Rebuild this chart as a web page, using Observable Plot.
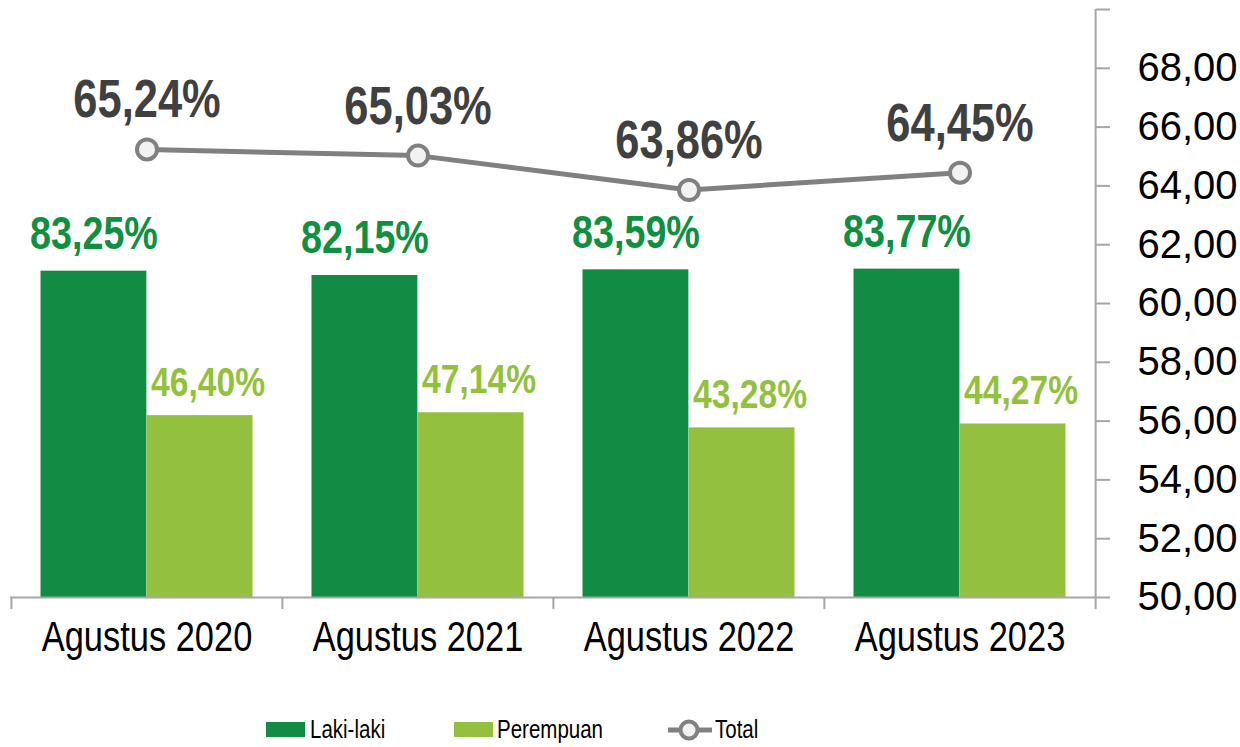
<!DOCTYPE html>
<html><head><meta charset="utf-8">
<script src="https://cdn.jsdelivr.net/npm/d3@7"></script>
<script src="https://cdn.jsdelivr.net/npm/@observablehq/plot@0.6"></script>
<style>
body{margin:0;background:#fff;}
#chart{width:1240px;height:700px;}
.legend{position:relative;height:47px;width:1240px;font-family:"Arial Narrow","Liberation Sans",Arial,sans-serif;font-size:25px;color:#000;}
.legend .sw{position:absolute;top:22px;width:39px;height:15px;}
.legend .lb{position:absolute;top:14px;line-height:30px;transform:scaleX(0.82);transform-origin:left center;white-space:nowrap;}
.legend svg{position:absolute;top:18px;}
</style></head><body>
<div id="chart"></div>
<div class="legend" id="legend"></div>
<script>
const categories = ["Agustus 2020", "Agustus 2021", "Agustus 2022", "Agustus 2023"];
const lakiLaki = [83.25, 82.15, 83.59, 83.77];
const perempuan = [46.40, 47.14, 43.28, 44.27];
const total = [65.24, 65.03, 63.86, 64.45];
const rightTicks = [50, 52, 54, 56, 58, 60, 62, 64, 66, 68, 70];
const seriesNames = ["Laki-laki", "Perempuan", "Total"];
const colors = {laki: "#128c44", perempuan: "#93c13f", total: "#808080"};
const primaryMax = 150; // hidden primary axis (bars) runs 0..150

const W = 1240, H = 700, mL = 10, mR = 145, mT = 9, mB = 103;
const bw = (W - mL - mR) / categories.length;
const gap = 29.5;
const barW = (bw - 2 * gap) / 2;
const yMin = 50, yMax = 70;
const toY = v => yMin + v * (yMax - yMin) / primaryMax;
const fmt = v => v.toFixed(2).replace(".", ",");
const narrow = '"Arial Narrow","Liberation Sans",Arial,sans-serif';
const narrowScale = 0.82;
const axisGray = "#a6a6a6";

const rows = categories.map((c, i) => ({cat: c, laki: lakiLaki[i], perempuan: perempuan[i], total: total[i]}));

const chart = Plot.plot({
  width: W, height: H,
  marginLeft: mL, marginRight: mR, marginTop: mT, marginBottom: mB,
  x: {type: "band", domain: categories, padding: 0, axis: null},
  y: {domain: [yMin, yMax]},
  style: {background: "#fff", overflow: "visible"},
  marks: [
    Plot.barY(rows, {x: "cat", y1: yMin, y2: d => toY(d.laki), fill: colors.laki, insetLeft: gap, insetRight: bw - gap - barW}),
    Plot.barY(rows, {x: "cat", y1: yMin, y2: d => toY(d.perempuan), fill: colors.perempuan, insetLeft: gap + barW, insetRight: gap}),
    Plot.ruleY([yMin], {stroke: axisGray, strokeWidth: 2}),
    Plot.ruleX(categories, {x: d => d, y1: yMin, y2: yMin, dx: -bw / 2, insetBottom: -12, stroke: axisGray, strokeWidth: 2}),
    Plot.ruleX([categories[categories.length - 1]], {x: d => d, y1: yMax, y2: yMin, dx: bw / 2, insetBottom: -12, stroke: axisGray, strokeWidth: 2}),
    Plot.axisY({anchor: "right", ticks: rightTicks, tickSize: 14, tickPadding: 28, label: null,
      tickFormat: d => d === yMax ? "" : fmt(d), fontSize: 40, fontFamily: '"Liberation Sans",Arial,sans-serif',
      stroke: axisGray, strokeWidth: 2, fill: "#000"}),
    Plot.text(categories, {x: d => d, text: d => d, frameAnchor: "bottom", dy: 53, lineAnchor: "bottom",
      fontSize: 42, fontFamily: narrow, fill: "#000"}),
    Plot.line(rows, {x: "cat", y: "total", stroke: colors.total, strokeWidth: 5}),
    Plot.dot(rows, {x: "cat", y: "total", r: 10, fill: "#f2f2f2", stroke: colors.total, strokeWidth: 4}),
    Plot.text(rows, {x: "cat", y: "total", text: d => fmt(d.total) + "%", dy: -32, lineAnchor: "bottom",
      fontSize: 53, fontWeight: "bold", fontFamily: narrow, fill: "#404040"}),
    Plot.text(rows, {x: "cat", y: d => toY(d.laki), text: d => fmt(d.laki) + "%", dx: -bw / 4 + gap / 2, dy: -22, lineAnchor: "bottom",
      fontSize: 46, fontWeight: "bold", fontFamily: narrow, fill: "#0f9040"}),
    Plot.text(rows, {x: "cat", y: d => toY(d.perempuan), text: d => fmt(d.perempuan) + "%", dx: bw / 4 - gap / 2 + 8, dy: -20, lineAnchor: "bottom",
      fontSize: 41, fontWeight: "bold", fontFamily: narrow, fill: "#92c13e"})
  ]
});
document.getElementById("chart").appendChild(chart);

// condense the "narrow" texts horizontally (no narrow face is installed)
chart.querySelectorAll('g[font-family*="Narrow"] text').forEach(t => {
  let tr = t.getAttribute("transform") || "";
  const x = t.getAttribute("x"), y = t.getAttribute("y");
  if (x != null || y != null) {
    tr += ` translate(${x || 0},${y || 0})`;
    t.removeAttribute("x"); t.removeAttribute("y");
  }
  t.setAttribute("transform", `${tr} scale(${narrowScale},1)`.trim());
});

// legend
const lg = document.getElementById("legend");
lg.innerHTML =
  `<div class="sw" style="left:266px;background:${colors.laki}"></div><div class="lb" style="left:310px">${seriesNames[0]}</div>` +
  `<div class="sw" style="left:454px;background:${colors.perempuan}"></div><div class="lb" style="left:497px">${seriesNames[1]}</div>` +
  `<svg width="46" height="24" style="left:667px"><line x1="1" y1="12" x2="45" y2="12" stroke="${colors.total}" stroke-width="5"/><circle cx="22" cy="12" r="8.5" fill="#f2f2f2" stroke="${colors.total}" stroke-width="4"/></svg>` +
  `<div class="lb" style="left:715px">${seriesNames[2]}</div>`;
</script>
</body></html>
